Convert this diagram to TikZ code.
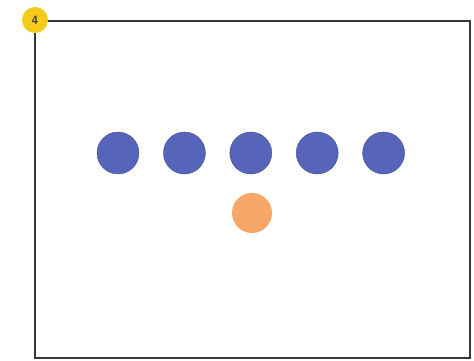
\documentclass[tikz,border=0pt]{standalone}
\usepackage{xcolor}
\usepackage{tikz}
\usetikzlibrary{positioning}
\definecolor{badgeyellow}{RGB}{242, 204, 24}
\definecolor{dotblue}{RGB}{86, 100, 186}
\definecolor{dotorange}{RGB}{246, 166, 102}
\definecolor{framegray}{RGB}{55, 55, 55}

\begin{document}
\begin{tikzpicture}[
    x=1pt, y=1pt,
    node distance=24pt,
    bluedot/.style={circle, fill=dotblue, draw=dotblue!80!black, line width=0.4pt,
                    minimum size=42pt, inner sep=0pt},
    orangedot/.style={circle, fill=dotorange, minimum size=40pt, inner sep=0pt},
    badge/.style={circle, fill=badgeyellow, minimum size=26pt, inner sep=0pt,
                  font=\sffamily\bfseries\large, text=black!75}
]
    \useasboundingbox (0, 0) rectangle (474, 361);
    \draw[framegray, line width=2.4pt] (35, 3) rectangle (470, 340);
    \node[badge] (step4) at (35, 341) {4};
    \node[bluedot] (d1) at (118, 208) {};
    \node[bluedot, right=of d1] (d2) {};
    \node[bluedot, right=of d2] (d3) {};
    \node[bluedot, right=of d3] (d4) {};
    \node[bluedot, right=of d4] (d5) {};
    \node[orangedot] (o1) at (252, 148) {};
\end{tikzpicture}
\end{document}
